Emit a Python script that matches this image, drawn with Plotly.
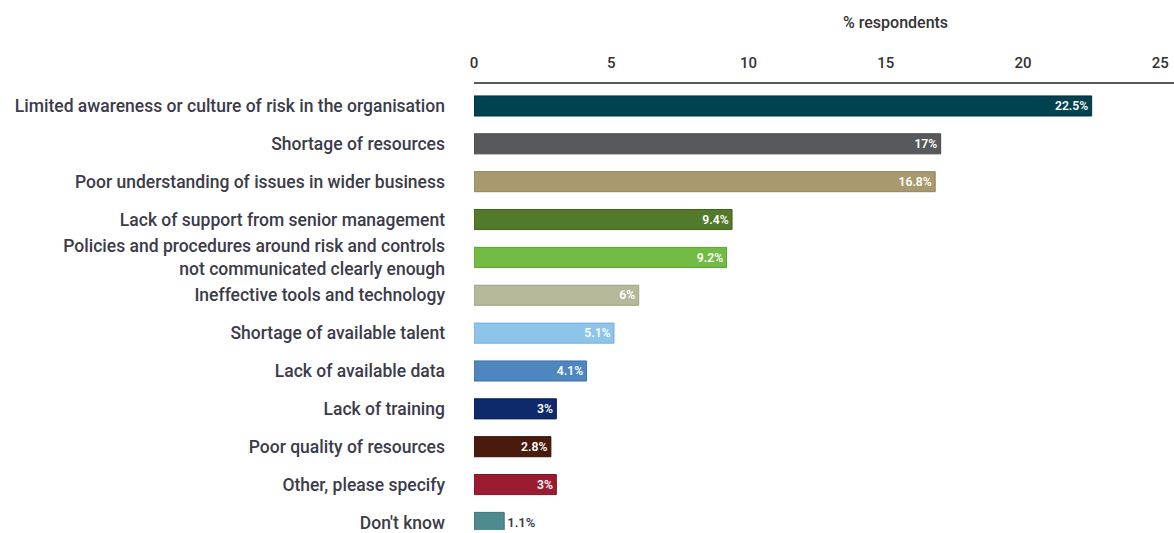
import plotly.graph_objects as go

categories = [
    "Limited awareness or culture of risk in the organisation",
    "Shortage of resources",
    "Poor understanding of issues in wider business",
    "Lack of support from senior management",
    "Policies and procedures around risk and controls<br>not communicated clearly enough",
    "Ineffective tools and technology",
    "Shortage of available talent",
    "Lack of available data",
    "Lack of training",
    "Poor quality of resources",
    "Other, please specify",
    "Don't know",
]
values = [22.5, 17, 16.8, 9.4, 9.2, 6, 5.1, 4.1, 3, 2.8, 3, 1.1]
value_labels = ["22.5%", "17%", "16.8%", "9.4%", "9.2%", "6%", "5.1%", "4.1%", "3%", "2.8%", "3%", "1.1%"]
colors = ["#00424f", "#58595b", "#a89a6e", "#527a2a", "#72bb44", "#b5b99a",
          "#8cc4ea", "#4f86c0", "#0e2a6b", "#4a1a0c", "#9b1b30", "#4f8a90"]
outlines = ["#00313b", "#46474a", "#8f835d", "#3f6120", "#5ea036", "#9da184",
            "#76afd6", "#3f70a6", "#081d52", "#340f06", "#7f1424", "#3f7177"]
x_ticks = [0, 5, 10, 15, 20, 25]

FONT = "Roboto, Liberation Sans, sans-serif"
TEXT_COLOR = "#3b3b4a"

# labels inside the bar, except short bars which get them outside
text_pos = ["inside" if v > 2 else "outside" for v in values]
text_colors = ["white" if v > 2 else TEXT_COLOR for v in values]

fig = go.Figure(go.Bar(
    x=values,
    y=categories,
    orientation="h",
    marker=dict(color=colors, line=dict(color=outlines, width=1)),
    text=value_labels,
    textposition=text_pos,
    insidetextanchor="end",
    textfont=dict(family=FONT, size=13, color=text_colors, weight=600),
    cliponaxis=False,
    width=0.53,
))

fig.update_layout(
    width=1174,
    height=533,
    margin=dict(l=474, r=0, t=84, b=0),
    paper_bgcolor="white",
    plot_bgcolor="white",
    showlegend=False,
    font=dict(family=FONT, color=TEXT_COLOR),
    xaxis=dict(
        side="top",
        range=[0, 25.5],
        tickvals=x_ticks,
        ticktext=[str(t) for t in x_ticks],
        showgrid=False,
        zeroline=False,
        showline=True,
        linecolor="#5a5a5a",
        linewidth=2,
        ticks="",
        ticklabelstandoff=8,
        tickfont=dict(family=FONT, size=15, color="#333333", weight=500),
    ),
    yaxis=dict(
        type="category",
        categoryorder="array",
        categoryarray=categories,
        range=[11.2, -0.58],
        showgrid=False,
        zeroline=False,
        showline=False,
        ticks="",
        ticklabelstandoff=28,
        tickfont=dict(family=FONT, size=17.5, color=TEXT_COLOR, weight=500),
    ),
    annotations=[dict(
        text="% respondents",
        x=15.35, xref="x",
        y=1 + (84 - 22) / (533 - 84), yref="paper", yanchor="middle",
        showarrow=False,
        font=dict(family=FONT, size=16, color="#333333", weight=500),
    )],
)

fig.write_html("out.html")
